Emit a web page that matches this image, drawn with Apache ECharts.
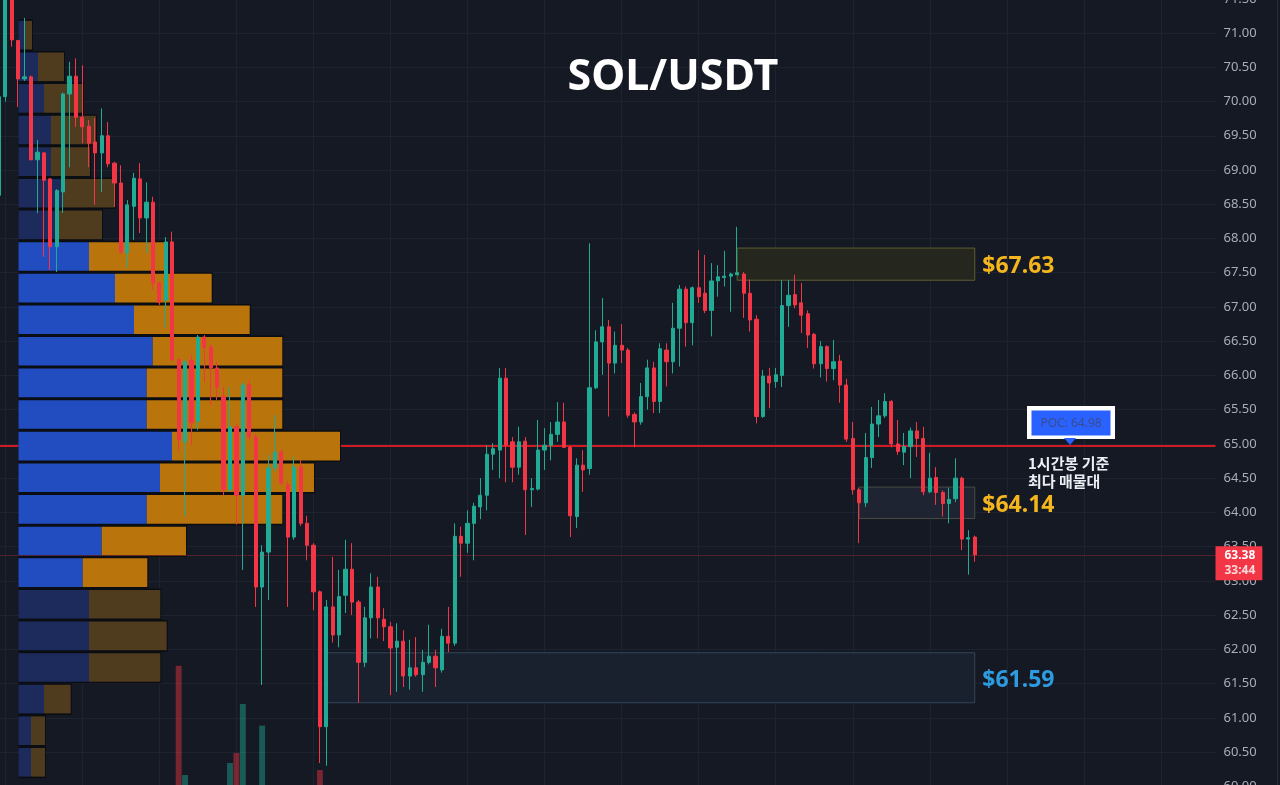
<!DOCTYPE html>
<html>
<head>
<meta charset="utf-8">
<script src="https://cdn.jsdelivr.net/npm/echarts@6/dist/echarts.min.js"></script>
<style>
html,body{margin:0;padding:0;background:#151924;}
#c{width:1280px;height:785px;}
</style>
</head>
<body>
<div id="c"></div>
<script>
// ---- hourly candles: [open, close, low, high] (first one partly cut at the left edge)
const candles = [
 [68.63,70.07,68.60,70.10],
 [70.07,71.60,70.00,71.80],[71.60,70.90,70.80,71.65],[70.89,70.33,69.92,70.90],[70.33,70.36,70.30,71.22],
 [70.36,69.15,69.14,70.38],[69.15,69.26,68.37,69.44],[69.25,68.85,67.73,69.26],[68.87,67.88,67.54,68.88],
 [67.88,68.70,67.51,68.72],[68.68,70.11,68.37,70.13],[70.11,70.37,69.04,70.58],[70.37,69.77,69.63,70.63],
 [69.77,69.63,69.39,70.53],[69.64,69.39,69.04,69.73],[69.41,69.25,68.49,69.76],[69.25,69.50,68.68,69.90],
 [69.50,69.09,69.04,69.70],[69.10,68.81,68.46,69.12],[68.81,67.80,67.78,69.07],[67.79,68.49,67.57,68.56],
 [68.47,68.88,67.98,68.96],[68.87,68.30,68.08,69.10],[68.30,68.53,67.79,68.82],[68.53,67.35,67.25,68.61],
 [67.35,67.07,67.03,67.37],[67.10,67.95,66.70,68.02],[67.95,66.23,66.20,68.10],[66.23,65.06,64.90,66.25],
 [65.03,66.20,63.94,66.22],[66.22,65.31,64.98,66.30],[65.33,66.56,65.20,66.59],[66.56,66.41,65.90,66.59],
 [66.41,66.11,65.57,66.45],[66.11,65.83,65.64,66.20],[65.69,64.33,64.25,65.83],[64.33,65.25,64.30,65.83],
 [65.25,64.25,63.82,65.30],[64.25,65.86,63.16,65.90],[65.86,65.10,65.05,65.93],[65.10,62.91,62.62,65.15],
 [62.91,63.42,61.48,63.52],[63.42,64.65,62.72,64.84],[64.65,64.88,64.60,65.42],[64.88,64.43,64.40,64.92],
 [64.40,63.64,62.62,64.45],[63.64,64.66,63.60,64.81],[64.66,63.84,63.80,64.76],[63.84,63.52,63.30,63.95],
 [63.52,62.84,62.57,63.55],[62.84,60.87,60.34,62.86],[60.87,62.62,60.30,62.72],[62.62,62.21,62.10,63.35],
 [62.21,62.77,62.03,63.16],[62.79,63.17,62.53,63.60],[63.17,62.69,62.50,63.55],[62.69,61.81,61.22,62.72],
 [61.81,62.46,61.74,62.62],[62.46,62.91,62.16,63.11],[62.91,62.46,62.16,63.06],[62.44,62.33,62.12,62.60],
 [62.33,62.02,61.33,62.40],[62.03,62.12,61.38,62.38],[62.12,61.61,61.45,62.28],[61.61,61.73,61.41,62.14],
 [61.73,61.63,61.60,62.18],[61.63,61.81,61.38,61.99],[61.81,61.90,61.78,62.36],[61.90,61.73,61.45,61.99],
 [61.70,62.19,61.66,62.30],[62.19,62.09,61.96,62.62],[62.09,63.65,62.05,63.84],[63.65,63.55,63.06,63.79],
 [63.55,63.84,63.41,64.03],[63.84,64.09,63.30,64.14],[64.08,64.25,63.90,64.50],[64.25,64.85,64.03,64.98],
 [64.85,64.93,64.62,65.01],[64.91,65.96,64.50,66.11],[65.96,64.98,64.44,66.11],[65.03,64.66,64.44,65.10],
 [64.66,65.03,64.55,65.25],[65.04,64.33,63.67,65.10],[64.33,64.35,64.08,64.50],[64.34,64.91,64.32,65.35],
 [64.91,64.98,64.62,65.23],[64.98,65.14,64.76,65.32],[65.14,65.32,65.03,65.61],[65.32,64.95,64.94,65.60],
 [64.95,63.95,63.64,64.97],[63.94,64.69,63.77,64.79],[64.69,64.62,64.30,64.91],[64.64,65.82,64.55,67.93],
 [65.82,66.49,65.80,66.66],[66.49,66.71,66.01,67.13],[66.71,66.18,65.40,66.81],[66.18,66.44,66.03,66.64],
 [66.44,66.37,66.18,66.75],[66.37,65.42,65.38,66.40],[65.43,65.32,64.95,65.46],[65.32,65.69,65.28,65.89],
 [65.69,66.11,65.50,66.23],[66.11,65.62,65.45,66.20],[65.62,66.39,65.45,66.47],[66.37,66.20,65.84,66.47],
 [66.20,66.69,66.03,67.06],[66.69,67.26,66.13,67.32],[67.26,66.77,66.42,67.30],[66.77,67.28,66.44,67.30],
 [67.28,67.15,67.06,67.83],[67.20,66.95,66.91,67.76],[66.95,67.38,66.57,67.64],[67.38,67.44,67.15,67.61],
 [67.43,67.45,67.30,67.82],[67.45,67.48,66.93,67.50],[67.47,67.50,67.47,68.17],[67.48,67.20,66.84,67.51],
 [67.20,66.81,66.64,67.40],[66.82,65.40,65.30,66.88],[65.40,65.99,65.38,66.08],[65.99,65.89,65.52,66.11],
 [65.91,66.01,65.82,66.11],[66.00,67.02,65.83,67.39],[67.02,67.17,66.71,67.39],[67.18,67.03,66.98,67.47],
 [67.06,66.88,66.62,67.35],[66.90,66.59,66.40,66.95],[66.60,66.17,66.10,66.62],[66.17,66.42,65.97,66.50],
 [66.42,66.10,65.91,66.44],[66.10,66.20,65.93,66.52],[66.21,65.86,65.60,66.30],[65.86,65.07,65.03,65.95],
 [65.08,64.33,64.26,65.32],[64.33,64.14,63.55,64.36],[64.14,64.80,64.08,65.16],[64.80,65.29,64.65,65.54],
 [65.29,65.41,65.10,65.64],[65.41,65.62,65.38,65.74],[65.62,65.00,64.95,65.64],[65.00,64.89,64.84,65.35],
 [64.88,64.96,64.69,65.16],[64.96,65.19,64.50,65.24],[65.19,65.08,64.81,65.32],[65.08,64.30,64.25,65.25],
 [64.30,64.50,64.28,64.87],[64.51,64.29,64.11,64.66],[64.29,64.13,63.94,64.32],[64.13,64.19,63.84,64.36],
 [64.20,64.50,64.15,64.79],[64.50,63.61,63.45,64.52],[63.61,63.63,63.09,63.74],[63.64,63.38,63.28,63.66]
];

// hourly volume bars that reach into the visible area (index into candles, value)
const volumeIndex = [28, 29, 36, 37, 38, 41, 50];
const volumeValue = [153, 14.3, 29.6, 42.3, 104.5, 77, 20.7];

// volume profile rows, top to bottom (buy / sell)
const profileTop = 71.20;
const profileStep = 0.4617;
const profileBuy  = [6.5,19.5,25.5,32.5,32.5,44.5,40.5,70.5,96.5,115.5,134.2,128.2,128.2,153.5,141.5,128.2,83.2,64.2,70.5,70.5,70.5,25.5,12.5,12.5];
const profileSell = [7,26,39,45,39,52,43,78,96.7,115.7,129.6,135.6,135.6,168,154,135.6,84.3,64.6,71.3,77.7,71.3,26.7,14,14];
const valueAreaHigh = 67.97, valueAreaLow = 62.88;

// key levels
const pocPrice = 64.98;
const lastPrice = 63.38;
const countdown = '33:44';
const zones = [
  {from: 115, to: 152, low: 67.39, high: 67.86, label: '$67.63', kind: 'res'},
  {from: 134, to: 152, low: 63.91, high: 64.37, label: '$64.14', kind: 'mid'},
  {from: 51,  to: 152, low: 61.22, high: 61.95, label: '$61.59', kind: 'sup'}
];

// axis
const yMin = 60, yMax = 71.5, yStep = 0.5;
const slotCount = 190;
const hours = Array.from({length: slotCount}, (_, i) => 'h' + i);
const gridEvery = 12;

const zoneStyle = {
  res: {fill: '#25271f', border: '#5f5b30', text: '#f5b51d'},
  mid: {fill: '#1e2431', border: '#4a4b42', text: '#f5b51d'},
  sup: {fill: '#1a212e', border: '#33445a', text: '#2d9be0'}
};

const volData = hours.map(() => '-');
volumeIndex.forEach((idx, j) => {
  const c = candles[idx];
  const up = c[1] >= c[0];
  volData[idx] = {value: volumeValue[j], itemStyle: {color: up ? 'rgba(34,171,148,0.45)' : 'rgba(242,54,69,0.45)'}};
});

const vLines = [];
for (let i = 1; i < slotCount; i += gridEvery) vLines.push({xAxis: hours[i]});

const chart = echarts.init(document.getElementById('c'), null, {renderer: 'canvas', width: 1280, height: 785});

const option = {
  backgroundColor: '#151924',
  animation: false,
  grid: [
    {left: -4.33, right: 64.5, top: -1.2, bottom: -1.3, containLabel: false, outerBoundsMode: 'none'},
    {left: 18.5, width: 1000, top: -1.2, bottom: -1.3, containLabel: false, outerBoundsMode: 'none'}
  ],
  xAxis: [
    {type: 'category', data: hours, gridIndex: 0, boundaryGap: true, show: false},
    {type: 'value', gridIndex: 1, min: 0, max: 1000, show: false}
  ],
  yAxis: [
    {type: 'value', gridIndex: 0, position: 'right', min: yMin, max: yMax, interval: yStep,
     axisLine: {show: false}, axisTick: {show: false},
     splitLine: {lineStyle: {color: '#1f2330', width: 1}},
     axisLabel: {color: '#a9adb8', fontFamily: 'Noto Sans', fontSize: 13, margin: 8,
                 formatter: v => v.toFixed(2)}},
    {type: 'value', gridIndex: 0, min: 0, max: 1000, show: false},
    {type: 'value', gridIndex: 1, min: yMin, max: yMax, show: false}
  ],
  series: [
    {
      type: 'bar', name: 'volume', xAxisIndex: 0, yAxisIndex: 1, data: volData,
      barWidth: '92%', z: 2, silent: true,
      markLine: {
        silent: true, symbol: 'none', z: 0, animation: false,
        label: {show: false},
        lineStyle: {color: '#1f2330', width: 1, type: 'solid'},
        data: vLines
      }
    },
    {
      type: 'line', name: 'poc', xAxisIndex: 0, yAxisIndex: 0, data: [], z: 0.5, silent: true,
      markLine: {
        silent: true, symbol: 'none', z: 0.5, animation: false,
        data: [{yAxis: pocPrice, lineStyle: {color: '#cf1a22', width: 2, type: 'solid'}, label: {show: false}}]
      }
    },
    {
      type: 'custom', name: 'profile', xAxisIndex: 1, yAxisIndex: 2, z: 1, silent: true, clip: false,
      data: profileBuy.map((b, i) => [i, b, profileSell[i]]),
      renderItem: function (params, api) {
        const i = api.value(0), b = api.value(1), s = api.value(2);
        const top = profileTop - i * profileStep, bot = top - profileStep;
        const mid = (top + bot) / 2;
        const bright = mid <= valueAreaHigh && mid >= valueAreaLow;
        const p0 = api.coord([0, top]);
        const pB = api.coord([b, bot]);
        const pS = api.coord([b + s, bot]);
        const h = pB[1] - p0[1];
        return {
          type: 'group',
          children: [
            {type: 'rect', shape: {x: p0[0], y: p0[1], width: pS[0] - p0[0] + 1, height: h}, style: {fill: 'rgba(10,12,17,0.92)'}},
            {type: 'rect', shape: {x: p0[0], y: p0[1] + 1.5, width: pB[0] - p0[0], height: h - 3},
             style: {fill: bright ? 'rgba(37,83,207,0.93)' : '#1c2b5b'}},
            {type: 'rect', shape: {x: pB[0], y: p0[1] + 1.5, width: pS[0] - pB[0], height: h - 3},
             style: {fill: bright ? 'rgba(197,123,12,0.94)' : '#4f3b1d'}}
          ]
        };
      }
    },
    {
      type: 'candlestick', name: 'SOL/USDT', xAxisIndex: 0, yAxisIndex: 0, data: candles,
      barWidth: 3.7, z: 3, silent: true,
      itemStyle: {color: '#22ab94', color0: '#f23645', borderColor: '#22ab94', borderColor0: '#f23645', borderWidth: 1},
      markArea: {
        silent: true, z: 1,
        data: zones.map(zn => {
          const st = zoneStyle[zn.kind];
          return [
            {xAxis: hours[zn.from], yAxis: zn.high,
             itemStyle: {color: st.fill, borderColor: st.border, borderWidth: 1},
             label: {show: true, position: 'right', distance: 7, offset: [0, 2.5], formatter: zn.label, color: st.text,
                     fontSize: 23, fontWeight: 'bold', fontFamily: 'Noto Sans'}},
            {xAxis: hours[zn.to], yAxis: zn.low}
          ];
        })
      },
      markLine: {
        silent: true, symbol: 'none', z: 6, animation: false,
        data: [
          {yAxis: lastPrice, lineStyle: {color: 'rgba(242,54,69,0.55)', width: 1, type: 'dotted'},
           label: {show: true, position: 'end', distance: 0, offset: [0, 8.5],
                   formatter: '{a|' + lastPrice.toFixed(2) + '}\n{b|' + countdown + '}',
                   backgroundColor: '#f23645', padding: [2, 7, 2, 9],
                   rich: {
                     a: {color: '#ffffff', fontSize: 12, fontWeight: 'bold', fontFamily: 'Noto Sans', lineHeight: 15},
                     b: {color: '#ffd9dc', fontSize: 12, fontWeight: 'bold', fontFamily: 'Noto Sans', lineHeight: 15}
                   }}}
        ]
      }
    }
  ],
  graphic: [
    {type: 'text', x: 673, y: 78, z: 20,
     style: {text: 'SOL/USDT', fill: '#ffffff', font: 'bold 43px "Noto Sans"', align: 'center', verticalAlign: 'middle',
             textAlign: 'center', textVerticalAlign: 'middle'}},
    {type: 'group', z: 20, children: [
      {type: 'rect', z: 20, shape: {x: 1027, y: 406, width: 88, height: 33}, style: {fill: '#ffffff'}},
      {type: 'rect', z: 21, shape: {x: 1031.5, y: 410.5, width: 79, height: 25}, style: {fill: '#2962ff'}},
      {type: 'polygon', z: 21, shape: {points: [[1064, 438], [1076, 438], [1070, 445]]}, style: {fill: '#2962ff'}},
      {type: 'text', z: 23, x: 1071, y: 423.5,
       style: {text: 'POC: ' + pocPrice.toFixed(2), fill: '#3a4c8e', fontSize: 12, fontFamily: 'Noto Sans',
               align: 'center', verticalAlign: 'middle', textAlign: 'center', textVerticalAlign: 'middle'}}
    ]},
    {type: 'text', x: 1028, y: 455, z: 20,
     style: {text: '1시간봉 기준\n최다 매물대', fill: '#eceff4', fontSize: 15, fontWeight: 'bold', fontFamily: 'Noto Sans CJK KR',
             lineHeight: 17.5, align: 'left', verticalAlign: 'top'}},
    {type: 'line', z: 20, shape: {x1: 1277.5, y1: 0, x2: 1277.5, y2: 785}, style: {stroke: '#2b2f3a', lineWidth: 1}}
  ]
};
chart.setOption(option);
</script>
</body>
</html>
